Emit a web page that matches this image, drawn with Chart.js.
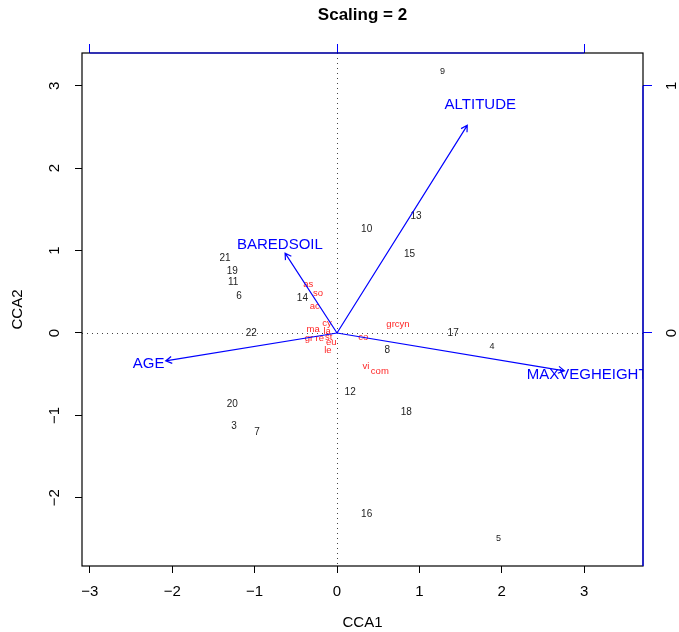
<!DOCTYPE html>
<html>
<head>
<meta charset="utf-8">
<title>Scaling = 2</title>
<script src="https://cdn.jsdelivr.net/npm/chart.js@4.4.1/dist/chart.umd.min.js"></script>
<style>
    html, body { margin: 0; padding: 0; background: #fff; }
</style>
</head>
<body>
<canvas id="ccaChart" width="679" height="632"></canvas>
<script>
// Site scores (black numbers)
const siteLabels = ['9', '13', '10', '15', '21', '19', '11', '6', '14', '22', '17', '4', '8', '12', '18', '20', '3', '7', '16', '5'];
const siteX = [1.28, 0.96, 0.36, 0.88, -1.36, -1.27, -1.26, -1.19, -0.42, -1.04, 1.41, 1.88, 0.61, 0.16, 0.84, -1.27, -1.25, -0.97, 0.36, 1.96];
const siteY = [3.17, 1.42, 1.26, 0.96, 0.91, 0.75, 0.61, 0.44, 0.42, 0.00, 0.00, -0.17, -0.21, -0.72, -0.96, -0.87, -1.13, -1.21, -2.20, -2.49];

// Species scores (red abbreviations)
const speciesLabels = ['as', 'so', 'ac', 'cy', 'la', 'ma', 'gr', 're', 'st', 'eu', 'le', 'co', 'grcyn', 'vi', 'com'];
const speciesX = [-0.35, -0.23, -0.27, -0.12, -0.12, -0.29, -0.34, -0.21, -0.10, -0.07, -0.11, 0.32, 0.74, 0.35, 0.52];
const speciesY = [0.59, 0.48, 0.32, 0.12, 0.02, 0.04, -0.07, -0.07, -0.05, -0.12, -0.21, -0.05, 0.10, -0.40, -0.47];

// Biplot arrows (environmental variables), in the scale of the top/right axes
const envLabels = ['ALTITUDE', 'BAREDSOIL', 'AGE', 'MAXVEGHEIGHT'];
const envX = [0.527, -0.210, -0.693, 0.920];
const envY = [0.840, 0.323, -0.113, -0.153];

// Axis ticks
const xTicks = [-3, -2, -1, 0, 1, 2, 3];
const yTicks = [-2, -1, 0, 1, 2, 3];
const arrowXTicks = [-1, 0, 1];
const arrowYTicks = [0, 1];

// Axis limits
const xMin = -3.095, xMax = 3.714;
const yMin = -2.828, yMax = 3.398;
const arrowMul = 3; // arrow axis unit vs main axis unit

const FONT = "'Liberation Sans', Arial, Helvetica, sans-serif";
const smallSites = ['9', '4', '5'];

function setTicks(values) {
    return function(scale) {
        scale.ticks = values.map(function(v) { return { value: v }; });
    };
}

// Draws box, zero lines, text labels, arrows and rotated tick labels
const biplotPlugin = {
    id: 'biplot',
    beforeDatasetsDraw: function(chart) {
        const ctx = chart.ctx;
        const area = chart.chartArea;
        const x = chart.scales.x, y = chart.scales.y;
        const x0 = Math.round(x.getPixelForValue(0)) + 0.5;
        const y0 = Math.round(y.getPixelForValue(0)) + 0.5;
        ctx.save();
        ctx.strokeStyle = '#444';
        ctx.lineWidth = 1;
        ctx.setLineDash([1, 4]);
        ctx.beginPath();
        ctx.moveTo(x0, area.top);
        ctx.lineTo(x0, area.bottom);
        ctx.moveTo(area.left, y0);
        ctx.lineTo(area.right, y0);
        ctx.stroke();
        ctx.restore();
    },
    afterDatasetsDraw: function(chart) {
        const ctx = chart.ctx;
        const area = chart.chartArea;
        const x = chart.scales.x, y = chart.scales.y;
        const x2 = chart.scales.x2, y2 = chart.scales.y2;

        ctx.save();
        ctx.beginPath();
        ctx.rect(area.left, area.top, area.right - area.left, area.bottom - area.top);
        ctx.clip();
        ctx.textAlign = 'center';
        ctx.textBaseline = 'middle';

        // sites
        chart.getDatasetMeta(0).data.forEach(function(pt, i) {
            const size = smallSites.indexOf(siteLabels[i]) >= 0 ? 9 : 10;
            ctx.font = size + 'px ' + FONT;
            ctx.fillStyle = '#222';
            ctx.fillText(siteLabels[i], pt.x, pt.y);
        });

        // species
        ctx.font = '9.5px ' + FONT;
        ctx.fillStyle = '#ff2626';
        chart.getDatasetMeta(1).data.forEach(function(pt, i) {
            ctx.fillText(speciesLabels[i], pt.x, pt.y);
        });

        // arrows
        const ox = x2.getPixelForValue(0), oy = y2.getPixelForValue(0);
        ctx.strokeStyle = '#0000ff';
        ctx.fillStyle = '#0000ff';
        ctx.lineWidth = 1.2;
        chart.getDatasetMeta(2).data.forEach(function(pt, i) {
            const ang = Math.atan2(pt.y - oy, pt.x - ox);
            const head = 7;
            ctx.beginPath();
            ctx.moveTo(ox, oy);
            ctx.lineTo(pt.x, pt.y);
            ctx.moveTo(pt.x - head * Math.cos(ang - Math.PI / 6), pt.y - head * Math.sin(ang - Math.PI / 6));
            ctx.lineTo(pt.x, pt.y);
            ctx.lineTo(pt.x - head * Math.cos(ang + Math.PI / 6), pt.y - head * Math.sin(ang + Math.PI / 6));
            ctx.stroke();
            // label at 1.1 x arrow tip
            const lx = x2.getPixelForValue(envX[i] * 1.1);
            const ly = y2.getPixelForValue(envY[i] * 1.1);
            ctx.font = '15px ' + FONT;
            ctx.fillText(envLabels[i], lx, ly);
        });
        ctx.restore();

        // box
        ctx.save();
        ctx.strokeStyle = '#000';
        ctx.lineWidth = 1.2;
        ctx.strokeRect(area.left, area.top, area.right - area.left, area.bottom - area.top);

        // blue arrow axes
        ctx.strokeStyle = '#0000ff';
        ctx.beginPath();
        ctx.moveTo(x2.getPixelForValue(arrowXTicks[0]), area.top);
        ctx.lineTo(x2.getPixelForValue(arrowXTicks[arrowXTicks.length - 1]), area.top);
        ctx.moveTo(area.right, y2.getPixelForValue(arrowYTicks[arrowYTicks.length - 1]));
        ctx.lineTo(area.right, area.bottom);
        ctx.stroke();

        // rotated tick labels (R style, las = 0)
        ctx.font = '15px ' + FONT;
        ctx.textAlign = 'center';
        ctx.textBaseline = 'middle';
        ctx.fillStyle = '#000';
        y.ticks.forEach(function(t) {
            ctx.save();
            ctx.translate(55, y.getPixelForValue(t.value));
            ctx.rotate(-Math.PI / 2);
            ctx.fillText(String(t.value).replace('-', '\u2212'), 0, 0);
            ctx.restore();
        });
        y2.ticks.forEach(function(t) {
            ctx.save();
            ctx.translate(area.right + 29, y2.getPixelForValue(t.value));
            ctx.rotate(-Math.PI / 2);
            ctx.fillText(String(t.value), 0, 0);
            ctx.restore();
        });

        // main title
        ctx.font = 'bold 17px ' + FONT;
        ctx.fillText('Scaling = 2', (area.left + area.right) / 2, 15);
        ctx.restore();
    }
};

function createCcaChart() {
    const ctx = document.getElementById('ccaChart');

    new Chart(ctx, {
        type: 'scatter',
        data: {
            datasets: [
                {
                    label: 'sites',
                    data: siteX.map(function(v, i) { return { x: v, y: siteY[i] }; }),
                    pointRadius: 0,
                    xAxisID: 'x',
                    yAxisID: 'y'
                },
                {
                    label: 'species',
                    data: speciesX.map(function(v, i) { return { x: v, y: speciesY[i] }; }),
                    pointRadius: 0,
                    xAxisID: 'x',
                    yAxisID: 'y'
                },
                {
                    label: 'biplot',
                    data: envX.map(function(v, i) { return { x: v, y: envY[i] }; }),
                    pointRadius: 0,
                    xAxisID: 'x2',
                    yAxisID: 'y2'
                }
            ]
        },
        options: {
            responsive: false,
            animation: false,
            layout: { padding: 0 },
            plugins: {
                legend: { display: false },
                tooltip: { enabled: false },
                title: { display: false }
            },
            scales: {
                x: {
                    type: 'linear',
                    position: 'bottom',
                    min: xMin,
                    max: xMax,
                    afterBuildTicks: setTicks(xTicks),
                    afterFit: function(scale) { scale.height = 66; },
                    border: { display: false },
                    grid: { drawOnChartArea: false, drawTicks: true, tickLength: 7, color: '#000', lineWidth: 1 },
                    ticks: {
                        color: '#000',
                        padding: 10,
                        font: { family: FONT, size: 15 },
                        callback: function(v) { return String(v).replace('-', '\u2212'); }
                    },
                    title: {
                        display: true,
                        text: 'CCA1',
                        color: '#000',
                        font: { family: FONT, size: 15 },
                        padding: { top: 0, bottom: 0 }
                    }
                },
                y: {
                    type: 'linear',
                    position: 'left',
                    min: yMin,
                    max: yMax,
                    afterBuildTicks: setTicks(yTicks),
                    afterFit: function(scale) { scale.width = 82; },
                    border: { display: false },
                    grid: { drawOnChartArea: false, drawTicks: true, tickLength: 7, color: '#000', lineWidth: 1 },
                    ticks: { display: false },
                    title: {
                        display: true,
                        text: 'CCA2',
                        color: '#000',
                        font: { family: FONT, size: 15 },
                        padding: { top: 9, bottom: 0 }
                    }
                },
                x2: {
                    type: 'linear',
                    position: 'top',
                    min: xMin / arrowMul,
                    max: xMax / arrowMul,
                    afterBuildTicks: setTicks(arrowXTicks),
                    afterFit: function(scale) { scale.height = 53; },
                    border: { display: false },
                    grid: { drawOnChartArea: false, drawTicks: true, tickLength: 9, color: '#0000ff', lineWidth: 1 },
                    ticks: { display: false }
                },
                y2: {
                    type: 'linear',
                    position: 'right',
                    min: yMin / arrowMul,
                    max: yMax / arrowMul,
                    afterBuildTicks: setTicks(arrowYTicks),
                    afterFit: function(scale) { scale.width = 36; },
                    border: { display: false },
                    grid: { drawOnChartArea: false, drawTicks: true, tickLength: 9, color: '#0000ff', lineWidth: 1 },
                    ticks: { display: false }
                }
            }
        },
        plugins: [biplotPlugin]
    });
}

document.addEventListener('DOMContentLoaded', createCcaChart);
</script>
</body>
</html>
